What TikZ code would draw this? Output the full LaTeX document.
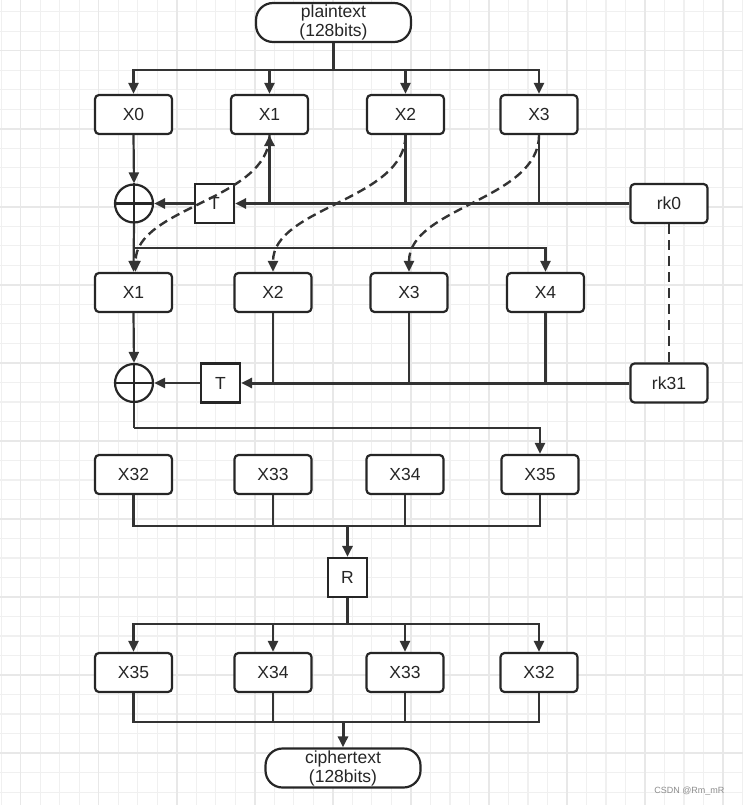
\documentclass[tikz,border=0pt]{standalone}
\usepackage{fontspec}
\setmainfont{Liberation Sans}
\usetikzlibrary{arrows.meta,calc}
\definecolor{linec}{HTML}{333333}
\definecolor{boxc}{HTML}{262626}
\definecolor{txtc}{HTML}{262626}
\definecolor{gminor}{HTML}{F0F0F0}
\definecolor{gmajor}{HTML}{E8E8E8}
\tikzset{
  lbl/.style={font=\fontsize{17.5}{19}\selectfont, text=txtc},
  box/.style={lbl, draw=boxc, line width=2.2pt, rounded corners=4pt, fill=white,
    minimum width=77pt, minimum height=39pt, inner sep=0pt},
  sqbox/.style={lbl, draw=boxc, line width=2.2pt, fill=white, minimum size=39pt, inner sep=0pt},
  term/.style={lbl, draw=boxc, line width=2.2pt, rounded corners=17pt, fill=white,
    minimum width=155pt, minimum height=39pt, inner sep=0pt, align=center},
  xorc/.style={draw=boxc, line width=2.2pt, circle, fill=white, minimum size=38pt, inner sep=0pt},
  conn/.style={draw=linec, line width=2.2pt},
  thk/.style={draw=linec, line width=3pt},
  arr/.style={conn, -{Triangle[length=11pt,width=10pt]}},
  thkarr/.style={thk, -{Triangle[length=11pt,width=10pt]}},
  dsh/.style={arr, line width=2.4pt, dash pattern=on 9pt off 5pt},
}
\begin{document}
\begin{tikzpicture}[x=1pt,y=-1pt]
\useasboundingbox (0,0) rectangle (743,805);
% grid background
\begin{scope}
\clip (0,0) rectangle (743,805);
\foreach \i in {0,...,38} \draw[gminor, line width=1.2pt] ({1.2+19.51*\i},0) -- ++(0,805);
\foreach \i in {0,...,42} \draw[gminor, line width=1.2pt] (0,{-7.8+19.51*\i}) -- ++(743,0);
\foreach \i in {0,...,9} \draw[gmajor, line width=1.5pt] ({20.7+78.04*\i},0) -- ++(0,805);
\foreach \i in {0,...,10} \draw[gmajor, line width=1.5pt] (0,{-27.3+78.04*\i}) -- ++(743,0);
\end{scope}

% nodes
\node[term] (pt) at (333.5,22.5) {plaintext\\(128bits)};
\node[box] (x0a) at (133.5,114.5) {X0};
\node[box] (x1a) at (269.5,114.5) {X1};
\node[box] (x2a) at (405.5,114.5) {X2};
\node[box] (x3a) at (539,114.5) {X3};

\node[xorc] (xor1) at (134,203.5) {};
\node[sqbox] (t1) at (214.5,203.5) {T};
\node[box] (rk0) at (669,203.5) {rk0};

\node[box] (x1b) at (133.5,292.5) {X1};
\node[box] (x2b) at (273,292.5) {X2};
\node[box] (x3b) at (409,292.5) {X3};
\node[box] (x4b) at (545.5,292.5) {X4};

\node[xorc] (xor2) at (134,383) {};
\node[sqbox] (t2) at (220.5,383) {T};
\node[box] (rk31) at (669,383) {rk31};

\node[box] (x32a) at (133.5,474.5) {X32};
\node[box] (x33a) at (273,474.5) {X33};
\node[box] (x34a) at (405,474.5) {X34};
\node[box] (x35a) at (540,474.5) {X35};

\node[sqbox] (r) at (347.5,577.5) {R};

\node[box] (x35b) at (133.5,672.5) {X35};
\node[box] (x34b) at (273,672.5) {X34};
\node[box] (x33b) at (405,672.5) {X33};
\node[box] (x32b) at (539,672.5) {X32};

\node[term] (ct) at (343,768) {ciphertext\\(128bits)};

\node[font=\fontsize{9}{10}\selectfont, text=black!45, anchor=east] (wm) at (728,791) {CSDN @Rm\_mR};

% xor crosses
\foreach \n in {xor1,xor2} {
  \draw[boxc, line width=2.2pt] (\n.north) -- (\n.south);
  \draw[boxc, line width=2.2pt] (\n.west) -- (\n.east);
}

% plaintext bus
\coordinate (bus1) at (333.5,70);
\draw[conn] (pt.south) -- (bus1);
\foreach \t in {x0a,x1a,x2a,x3a} \draw[arr] (bus1) -| (\t.north);

% round 1
\draw[conn] (rk0.west) -- (x3a.south |- rk0.west);
\draw[thkarr] (x3a.south |- rk0.west) -- (t1.east);
\draw[conn] (x3a.south) -- (x3a.south |- rk0.west);
\draw[conn] (x2a.south) -- (x2a.south |- rk0.west);
\draw[thkarr] (x1a.south |- rk0.west) -- (x1a.south);
\draw[thkarr] (t1.west) -- (xor1.east);
\draw[arr] (x0a.south) -- (xor1.north);
\draw[arr] (xor1.south) -- (x1b.north);
\coordinate (bus2) at (134,248);
\draw[arr] (bus2) -| (x4b.north);

% dashed swaps
\draw[dsh] (x1a.south) .. controls +(0,65) and +(0,-65) .. ($(x1b.north)+(2,0)$);
\draw[dsh] (x2a.south) .. controls +(0,65) and +(0,-65) .. (x2b.north);
\draw[dsh] (x3a.south) .. controls +(0,65) and +(0,-65) .. (x3b.north);

% key dashed
\draw[conn, line width=2.4pt, dash pattern=on 10pt off 6pt] (rk0.south) -- (rk31.north);

% round 31
\draw[thkarr] (rk31.west) -- (t2.east);
\foreach \s in {x2b,x3b,x4b} \draw[conn] (\s.south) -- (\s.south |- rk31.west);
\draw[arr] (t2.west) -- (xor2.east);
\draw[arr] (x1b.south) -- (xor2.north);
\coordinate (bus3) at (134,428);
\draw[conn] (xor2.south) -- (bus3);
\draw[arr] (bus3) -| (x35a.north);

% to R
\coordinate (bus4) at (347.5,526);
\foreach \s in {x32a,x33a,x34a,x35a} \draw[conn] (\s.south) |- (bus4);
\draw[thkarr] (bus4) -- (r.north);

% from R
\coordinate (bus5) at (347.5,624);
\draw[thk] (r.south) -- (bus5);
\foreach \t in {x35b,x34b,x33b,x32b} \draw[arr] (bus5) -| (\t.north);

% to ciphertext
\coordinate (bus6) at (343,722);
\foreach \s in {x35b,x34b,x33b,x32b} \draw[conn] (\s.south) |- (bus6);
\draw[thkarr] (bus6) -- (ct.north);
\end{tikzpicture}
\end{document}
